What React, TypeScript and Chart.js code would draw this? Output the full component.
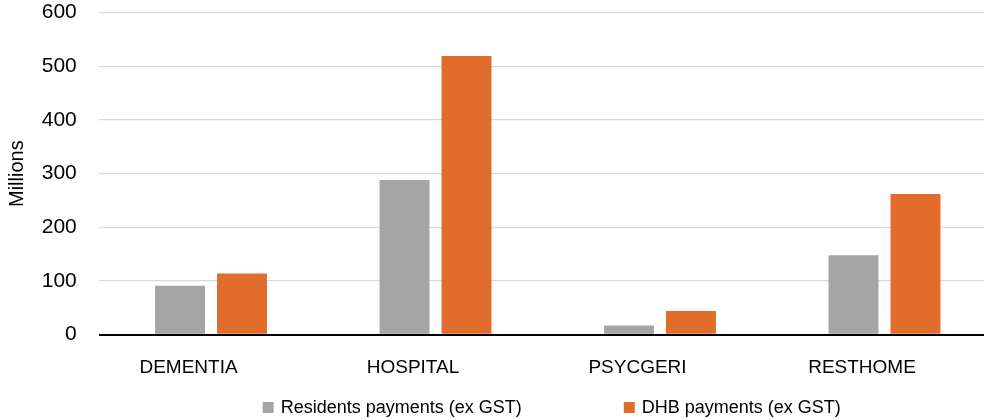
import React, { useEffect, useRef } from "react";
import { Chart, registerables } from "chart.js";

Chart.register(...registerables);

const categories = ["DEMENTIA", "HOSPITAL", "PSYCGERI", "RESTHOME"];
const residentsPayments = [91, 288, 17, 148];
const dhbPayments = [114, 519, 44, 262];
const seriesNames = ["Residents payments (ex GST)", "DHB payments (ex GST)"];
const seriesColors = ["#a5a5a5", "#e26c2b"];
const yTickValues = [0, 100, 200, 300, 400, 500, 600];
const yAxisTitle = "Millions";

const FONT = '"Liberation Sans", Arial, sans-serif';

const bottomLegend = {
  id: "bottomLegend",
  afterDraw(chart: any) {
    const ctx = chart.ctx as CanvasRenderingContext2D;
    const { left, right } = chart.chartArea;
    ctx.save();
    ctx.font = `18px ${FONT}`;
    const box = 11;
    const textGap = 7;
    const itemGap = 102;
    const items = chart.data.datasets.map((ds: any) => ({
      text: ds.label as string,
      color: ds.backgroundColor as string,
      w: box + textGap + ctx.measureText(ds.label).width,
    }));
    const total =
      items.reduce((s: number, it: any) => s + it.w, 0) + itemGap * (items.length - 1);
    let x = (left + right) / 2 + 4 - total / 2;
    const y = 407.5;
    ctx.textBaseline = "middle";
    ctx.textAlign = "left";
    for (const it of items) {
      ctx.fillStyle = it.color;
      ctx.fillRect(x, y - box / 2, box, box);
      ctx.fillStyle = "#000";
      ctx.fillText(it.text, x + box + textGap, y + 1);
      x += it.w + itemGap;
    }
    ctx.restore();
  },
};

export default function App() {
  const canvasRef = useRef<HTMLCanvasElement | null>(null);

  useEffect(() => {
    if (!canvasRef.current) return;
    const chart = new Chart(canvasRef.current, {
      type: "bar",
      data: {
        labels: categories,
        datasets: [
          {
            label: seriesNames[0],
            data: residentsPayments,
            backgroundColor: seriesColors[0],
            categoryPercentage: 0.552,
            barPercentage: 0.806,
          },
          {
            label: seriesNames[1],
            data: dhbPayments,
            backgroundColor: seriesColors[1],
            categoryPercentage: 0.552,
            barPercentage: 0.806,
          },
        ],
      },
      options: {
        animation: false,
        responsive: true,
        maintainAspectRatio: false,
        layout: { padding: { left: 5.3, right: 3.25, top: 0, bottom: 18.3 } },
        plugins: {
          legend: { display: false },
          tooltip: { enabled: false },
        },
        scales: {
          x: {
            grid: { display: false, drawTicks: false },
            border: { display: false },
            ticks: {
              color: "#000",
              font: { family: FONT, size: 19 },
              padding: 21.6,
              maxRotation: 0,
              labelOffset: -22.5,
            },
          },
          y: {
            min: 0,
            max: 600,
            afterBuildTicks: (axis: any) => {
              axis.ticks = yTickValues.map((v) => ({ value: v }));
            },
            grid: {
              drawTicks: true,
              tickLength: 22,
              tickColor: "rgba(0,0,0,0)",
              color: (c: any) => (c.tick && c.tick.value === 0 ? "#000" : "#d9d9d9"),
              lineWidth: (c: any) => (c.tick && c.tick.value === 0 ? 2 : 1.3),
            },
            border: { display: false },
            ticks: {
              color: "#000",
              font: { family: FONT, size: 21 },
              padding: 0,
            },
            title: {
              display: true,
              text: yAxisTitle,
              color: "#000",
              font: { family: FONT, size: 20 },
              padding: { top: 0, bottom: 12.45 },
            },
          },
        },
      },
      plugins: [bottomLegend],
    });
    return () => chart.destroy();
  }, []);

  return (
    <div
      style={{
        position: "fixed",
        left: 0,
        top: 0,
        width: 984,
        height: 419,
        overflow: "hidden",
        background: "#fff",
      }}
    >
      <div style={{ position: "relative", width: 1000, height: 419 }}>
        <canvas ref={canvasRef} />
      </div>
    </div>
  );
}
